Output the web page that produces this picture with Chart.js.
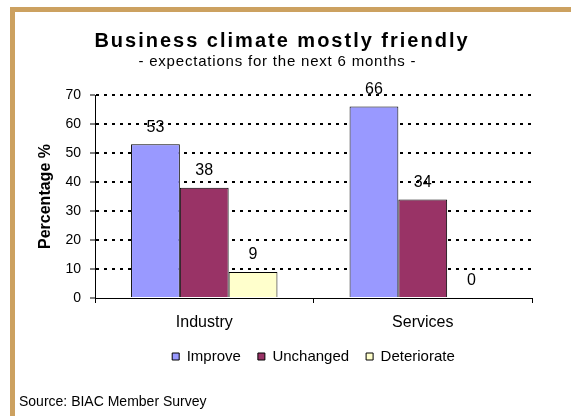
<!DOCTYPE html>
<html>
<head>
<meta charset="utf-8">
<title>Business climate mostly friendly</title>
<script src="https://cdn.jsdelivr.net/npm/chart.js@4/dist/chart.umd.min.js"></script>
<style>
  html, body { margin: 0; padding: 0; background: #fff; }
  #wrap { position: relative; width: 571px; height: 416px; overflow: hidden; }
  #frame { position: absolute; left: 10px; top: 7px; right: 0; bottom: 0;
           border-left: 5px solid #cca160; border-top: 5px solid #cca160; }
  canvas { position: absolute; left: 0; top: 0; }
</style>
</head>
<body>
<div id="wrap">
  <div id="frame"></div>
  <canvas id="chart" width="571" height="416"></canvas>
</div>
<script>
var categories = ['Industry', 'Services'];
var improve = [53, 66];
var unchanged = [38, 34];
var deteriorate = [9, 0];
var yMin = 0, yMax = 70, yStep = 10;

var titleText = 'Business climate mostly friendly';
var subtitleText = '- expectations for the next 6 months -';
var sourceText = 'Source: BIAC Member Survey';

var FONT = "'Liberation Sans', Arial, Helvetica, sans-serif";
Chart.defaults.font.family = FONT;
Chart.defaults.color = '#000';

// centred text with extra space between letters
function spacedText(ctx, text, font, gap, cx, y) {
    ctx.font = font;
    ctx.letterSpacing = '0px';
    var w = ctx.measureText(text).width + gap * (text.length - 1);
    ctx.letterSpacing = gap + 'px';
    ctx.fillText(text, cx - w / 2, y);
    ctx.letterSpacing = '0px';
}

// heading, subheading and the source note
var headings = {
    id: 'headings',
    afterDraw: function(chart) {
        var ctx = chart.ctx;
        ctx.save();
        ctx.fillStyle = '#000';
        ctx.textAlign = 'left';
        ctx.textBaseline = 'alphabetic';
        spacedText(ctx, titleText, 'bold 20px ' + FONT, 2, 281, 46.5);
        spacedText(ctx, subtitleText, '15px ' + FONT, 0.8, 277, 66);
        ctx.font = '14px ' + FONT;
        ctx.fillText(sourceText, 19, 406);
        ctx.restore();
    }
};

// value printed above each bar
var valueLabels = {
    id: 'valueLabels',
    afterDatasetsDraw: function(chart) {
        var ctx = chart.ctx;
        ctx.save();
        ctx.font = '16px ' + FONT;
        ctx.fillStyle = '#000';
        ctx.textAlign = 'center';
        ctx.textBaseline = 'middle';
        chart.data.datasets.forEach(function(ds, i) {
            chart.getDatasetMeta(i).data.forEach(function(bar, j) {
                ctx.fillText(ds.data[j], bar.x, bar.y - 17);
            });
        });
        ctx.restore();
    }
};

var mychart = new Chart(document.getElementById('chart'), {
    type: 'bar',
    data: {
        labels: categories,
        datasets: [
            { label: 'Improve', data: improve, backgroundColor: '#9999ff', borderColor: '#000' },
            { label: 'Unchanged', data: unchanged, backgroundColor: '#993366', borderColor: '#000' },
            { label: 'Deteriorate', data: deteriorate, backgroundColor: '#ffffcc', borderColor: '#000' }
        ]
    },
    options: {
        responsive: false,
        animation: false,
        devicePixelRatio: 1,
        layout: { padding: { left: 15, right: 39, top: 95, bottom: 42 } },
        datasets: {
            bar: {
                categoryPercentage: 0.67,
                barPercentage: 1,
                borderWidth: 1
            }
        },
        plugins: {
            title: { display: false },
            tooltip: { enabled: false },
            legend: {
                position: 'bottom',
                fullSize: false,
                labels: {
                    boxWidth: 7,
                    boxHeight: 7,
                    padding: 17,
                    color: '#000',
                    font: { size: 15 }
                }
            }
        },
        scales: {
            x: {
                grid: { drawOnChartArea: false, color: '#000', tickLength: 5 },
                border: { color: '#000', width: 1 },
                ticks: { color: '#000', padding: 10, font: { size: 16 } },
                afterFit: function(scale) { scale.height = 34; }
            },
            y: {
                min: yMin,
                max: yMax,
                ticks: { stepSize: yStep, color: '#000', padding: 9, font: { size: 14 } },
                grid: {
                    color: function(c) {
                        return c.tick && c.tick.value === 0 ? 'rgba(0,0,0,0)' : '#000';
                    },
                    lineWidth: 2,
                    tickColor: '#000',
                    tickWidth: 1,
                    tickLength: 5,
                    tickBorderDash: []
                },
                border: { color: '#000', width: 1, dash: [3, 5] },
                title: {
                    display: true,
                    text: 'Percentage %',
                    color: '#000',
                    font: { size: 16, weight: 'bold' },
                    padding: { top: 21, bottom: 0 }
                },
                afterFit: function(scale) { scale.width = 80; }
            }
        }
    },
    plugins: [valueLabels, headings]
});
</script>
</body>
</html>
